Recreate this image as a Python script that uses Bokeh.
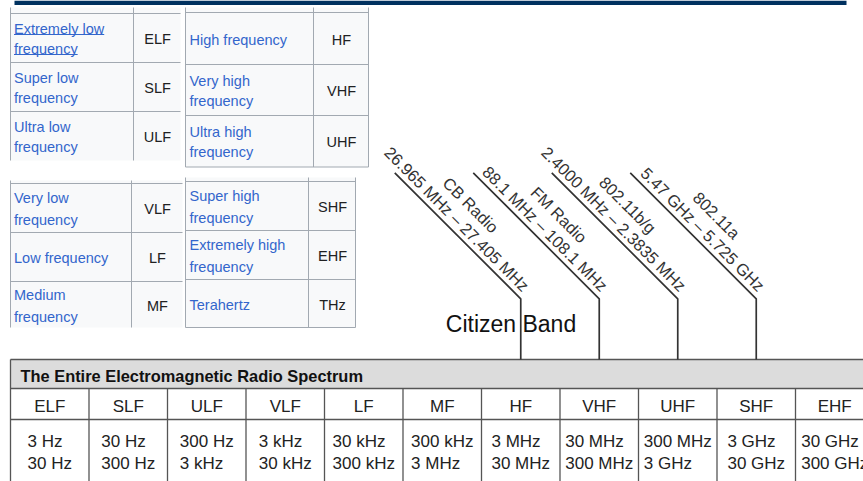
import math
from bokeh.plotting import figure
from bokeh.models import Range1d
from bokeh.core.properties import value
from bokeh.embed import file_html
from bokeh.resources import INLINE

# ---------------- data ----------------
table_ul_names = ["Extremely low\nfrequency", "Super low\nfrequency", "Ultra low\nfrequency"]
table_ul_abbr = ["ELF", "SLF", "ULF"]
table_ur_names = ["High frequency", "Very high\nfrequency", "Ultra high\nfrequency"]
table_ur_abbr = ["HF", "VHF", "UHF"]
table_ll_names = ["Very low\nfrequency", "Low frequency", "Medium\nfrequency"]
table_ll_abbr = ["VLF", "LF", "MF"]
table_lr_names = ["Super high\nfrequency", "Extremely high\nfrequency", "Terahertz"]
table_lr_abbr = ["SHF", "EHF", "THz"]

spectrum_title = "The Entire Electromagnetic Radio Spectrum"
spectrum_bands = ["ELF", "SLF", "ULF", "VLF", "LF", "MF", "HF", "VHF", "UHF", "SHF", "EHF"]
band_low = ["3 Hz", "30 Hz", "300 Hz", "3 kHz", "30 kHz", "300 kHz",
            "3 MHz", "30 MHz", "300 MHz", "3 GHz", "30 GHz"]
band_high = ["30 Hz", "300 Hz", "3 kHz", "30 kHz", "300 kHz", "3 MHz",
             "30 MHz", "300 MHz", "3 GHz", "30 GHz", "300 GHz"]

service_names = ["CB Radio", "FM Radio", "802.11b/g", "802.11a"]
service_ranges = ["26.965 MHz \u2013 27.405 MHz", "88.1 MHz \u2013 108.1 MHz",
                  "2.4000 MHz \u2013 2.3835 MHz", "5.47 GHz \u2013 5.725 GHz"]
service_bands = ["HF", "VHF", "UHF", "SHF"]
callout_label = "Citizen Band"

# ---------------- helpers ----------------
FONT = value("Liberation Sans")
_W = {" ": 278, ".": 278, "/": 278, "\u2013": 556, "-": 333}
for c in "0123456789":
    _W[c] = 556
_W.update(dict(zip("ABCDEFGHIJKLMNOPQRSTUVWXYZ",
                   [667, 667, 722, 722, 667, 611, 778, 722, 278, 500, 667, 556, 833,
                    722, 778, 667, 778, 722, 667, 611, 722, 667, 944, 667, 667, 611])))
_W.update(dict(zip("abcdefghijklmnopqrstuvwxyz",
                   [556, 556, 500, 556, 556, 278, 556, 556, 222, 222, 500, 222, 833,
                    556, 556, 556, 556, 333, 500, 278, 556, 500, 722, 500, 500, 500])))


def tw(s, size):
    return sum(_W.get(c, 556) for c in s) / 1000.0 * size


W, H = 863, 481
p = figure(width=W, height=H, x_range=Range1d(0, W), y_range=Range1d(H, 0),
           output_backend="svg", toolbar_location=None, min_border=0,
           x_axis_location=None, y_axis_location=None)
p.grid.visible = False
p.outline_line_color = None
p.background_fill_color = "white"
p.border_fill_color = "white"

# top navy band
p.quad(left=[14], right=[846], top=[0], bottom=[4.5], fill_color="#00315f", line_color=None)

GRID = "#a2a9b1"
LINK = "#3366cc"
INK = "#202122"
TFS = 14.5


def wiki_table(x0, xm, x1, rows, bg_top, names, abbrs, right_border, bottom_border,
               underline_first=False, tx=3.5, gap=10.5):
    p.quad(left=[x0], right=[x1], top=[bg_top], bottom=[rows[-1]],
           fill_color="#f8f9fa", line_color=None)
    hy = rows[:-1] + ([rows[-1]] if bottom_border else [])
    p.segment(x0=[x0] * len(hy), x1=[x1] * len(hy), y0=hy, y1=hy,
              line_color=GRID, line_width=1)
    vx = [x0, xm] + ([x1] if right_border else [])
    p.segment(x0=vx, x1=vx, y0=[bg_top] * len(vx), y1=[rows[-1]] * len(vx),
              line_color=GRID, line_width=1)
    xs, ys, ts = [], [], []
    ax, ay = [], []
    for i, (nm, ab) in enumerate(zip(names, abbrs)):
        rc = (rows[i] + rows[i + 1]) / 2 + 1
        lines = nm.split("\n")
        if len(lines) == 1:
            lys = [rc]
        else:
            lys = [rc - gap, rc + gap]
        for ln, ly in zip(lines, lys):
            xs.append(x0 + tx)
            ys.append(ly)
            ts.append(ln)
            if underline_first and i == 0:
                p.segment(x0=[x0 + tx], x1=[x0 + tx + tw(ln, TFS)], y0=[ly + 5.5], y1=[ly + 5.5],
                          line_color=LINK, line_width=1)
        ax.append((xm + x1) / 2 + 0.5)
        ay.append(rc)
    p.text(x=xs, y=ys, text=ts, text_font=FONT, text_font_size=f"{TFS}px",
           text_color=LINK, text_baseline="middle", text_align="left")
    p.text(x=ax, y=ay, text=abbrs, text_font=FONT, text_font_size=f"{TFS}px",
           text_color=INK, text_baseline="middle", text_align="center")


wiki_table(10, 133, 180, [13, 62, 111, 160], 7, table_ul_names, table_ul_abbr,
           False, False, underline_first=True, gap=10)
wiki_table(185, 313, 368, [12, 64, 115, 166.5], 7, table_ur_names, table_ur_abbr,
           True, True, tx=4, gap=10)
wiki_table(10, 131, 182, [183, 232, 281, 327], 180, table_ll_names, table_ll_abbr,
           False, False, gap=11)
wiki_table(185, 308, 355, [181, 230, 279, 327], 177, table_lr_names, table_lr_abbr,
           True, True, tx=4, gap=11)

# ---------------- spectrum table ----------------
COL0, COLW = 10, 78.5
BAND_FS = 17
DARK = "#555555"


def col_left(i):
    return COL0 + COLW * i


def col_center(i):
    return COL0 + COLW * (i + 0.5)


p.quad(left=[COL0], right=[880], top=[359], bottom=[388], fill_color="#dcdcdc", line_color=None)
hy = [359, 388, 419]
p.segment(x0=[COL0] * 3, x1=[880] * 3, y0=hy, y1=hy, line_color=DARK, line_width=1.3)
n = len(spectrum_bands)
vx = [col_left(i) for i in range(n + 1)]
p.segment(x0=vx, x1=vx, y0=[359] + [388] * n, y1=[490] * (n + 1), line_color=DARK, line_width=1.3)

p.text(x=[20], y=[375], text=[spectrum_title], text_font=FONT, text_font_size="16.4px",
       text_font_style="bold", text_color="#111111", text_baseline="middle", text_align="left")
p.text(x=[col_center(i) for i in range(n)], y=[405.5] * n, text=spectrum_bands,
       text_font=FONT, text_font_size=f"{BAND_FS}px", text_color="#222222",
       text_baseline="middle", text_align="center")
lefts = [col_center(i) - max(tw(band_low[i], BAND_FS), tw(band_high[i], BAND_FS)) / 2
         for i in range(n)]
p.text(x=lefts, y=[441] * n, text=band_low, text_font=FONT, text_font_size=f"{BAND_FS}px",
       text_color="#222222", text_baseline="middle", text_align="left")
p.text(x=lefts, y=[463.3] * n, text=band_high, text_font=FONT, text_font_size=f"{BAND_FS}px",
       text_color="#222222", text_baseline="middle", text_align="left")

# ---------------- service call-outs ----------------
BEND_Y, DIAG = 298.3, 126.0
LFS = 16.5
r2 = math.sqrt(2)
ux, uy = 1 / r2, 1 / r2      # along the diagonal (down-right on screen)
nx, ny = 1 / r2, -1 / r2     # perpendicular (up-right on screen)

lxs, lys = [], []
fx, fy, nxs, nys = [], [], [], []
for nm, rg, bd in zip(service_names, service_ranges, service_bands):
    bx = col_center(spectrum_bands.index(bd))
    lxs.append([bx - DIAG, bx, bx])
    lys.append([BEND_Y - DIAG, BEND_Y, 359])
    a_end = -3.5
    fx.append(bx + a_end * ux + 11.3 * nx)
    fy.append(BEND_Y + a_end * uy + 11.3 * ny)
    a_mid = a_end - tw(rg, LFS) / 2
    nxs.append(bx + a_mid * ux + 31 * nx)
    nys.append(BEND_Y + a_mid * uy + 31 * ny)

p.text(x=fx, y=fy, text=service_ranges, angle=-math.pi / 4, text_font=FONT,
       text_font_size=f"{LFS}px", text_color="#333333", text_baseline="middle", text_align="right")
p.text(x=nxs, y=nys, text=service_names, angle=-math.pi / 4, text_font=FONT,
       text_font_size=f"{LFS}px", text_color="#333333", text_baseline="middle", text_align="center")

p.text(x=[510.5], y=[323.5], text=[callout_label], text_font=FONT, text_font_size="23px",
       text_color="#111111", text_baseline="middle", text_align="center")
p.multi_line(xs=lxs, ys=lys, line_color="#333333", line_width=1.7)

open("out.html", "w").write(file_html(p, INLINE))
